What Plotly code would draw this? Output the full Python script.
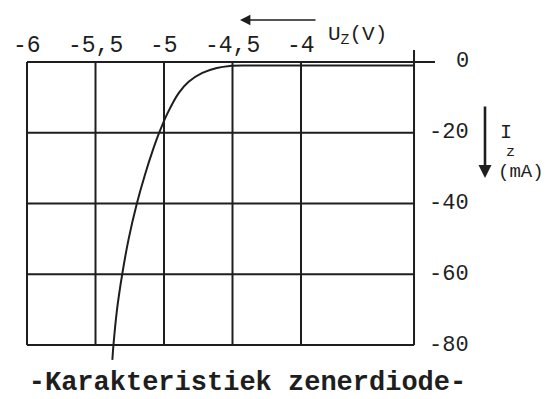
import plotly.graph_objects as go

# zener characteristic
uz = [-5.377, -5.369, -5.343, -5.305, -5.258, -5.198, -5.14, -5.082, -5.035,
      -4.973, -4.893, -4.82, -4.72, -4.615, -4.52, -4.4, -4.2, -3.9, -3.6, -3.175]
iz = [-84.2, -80, -70, -60, -50, -40, -32, -25, -20,
      -14.4, -8.8, -5.6, -3.1, -1.7, -1.1, -1.0, -1.0, -1.0, -1.0, -1.0]

x_ticks = [-6, -5.5, -5, -4.5, -4]
x_ticktext = ["-6", "-5,5", "-5", "-4,5", "-4"]
y_ticks = [0, -20, -40, -60, -80]
y_ticktext = ["0", "-20", "-40", "-60", "-80"]

x_right = -3.175   # right border of the grid
x_axis_end = -3.022  # zero line runs a bit past the border

OFF = 8  # page body margin
W, H = 557 - OFF, 399 - OFF
L, R, T, B = 20 - OFF, 117, 46 - OFF, 35
INK = "#1e1e1e"
MONO = "Liberation Mono, Courier New, monospace"


def px(x):
    return (x - OFF - L) / (W - L - R)


def py(y):
    return (H - B - (y - OFF)) / (H - T - B)


fig = go.Figure()
fig.add_trace(go.Scatter(x=uz, y=iz, mode="lines",
                         line=dict(color=INK, width=2, shape="spline", smoothing=0.7),
                         hoverinfo="skip", showlegend=False))

shapes = []
for xv in x_ticks:
    shapes.append(dict(type="line", x0=xv, x1=xv, y0=y_ticks[0], y1=y_ticks[-1],
                       line=dict(color=INK, width=2)))
shapes.append(dict(type="line", x0=x_right, x1=x_right, y0=3.4, y1=y_ticks[-1],
                   line=dict(color=INK, width=2)))
for yv in y_ticks[1:]:
    shapes.append(dict(type="line", x0=x_ticks[0], x1=x_right, y0=yv, y1=yv,
                       line=dict(color=INK, width=2)))
shapes.append(dict(type="line", x0=x_ticks[0], x1=x_axis_end, y0=0, y1=0,
                   line=dict(color=INK, width=2)))

ann = []
for xv, t in zip(x_ticks, x_ticktext):
    ann.append(dict(x=xv, y=0, xref="x", yref="y", text=t, showarrow=False,
                    yanchor="middle", yshift=16, font=dict(family=MONO, size=23, color=INK)))
for yv, t in zip(y_ticks, y_ticktext):
    ann.append(dict(x=1, y=yv, xref="paper", yref="y", text=t, showarrow=False,
                    xanchor="right", xshift=31, font=dict(family=MONO, size=22, color=INK)))

# U_Z arrow and label
ann.append(dict(x=px(240), y=py(20), xref="paper", yref="paper", text="",
                showarrow=True, ax=77, ay=0, arrowhead=2, arrowsize=1.3,
                arrowwidth=1.6, arrowcolor=INK))
ann.append(dict(x=px(326), y=py(21), xref="paper", yref="paper",
                text="U<sub>Z</sub>(V)", showarrow=False, xanchor="left",
                font=dict(family=MONO, size=21, color=INK)))
# I_z arrow and label
ann.append(dict(x=px(485), y=py(178), xref="paper", yref="paper", text="",
                showarrow=True, ax=0, ay=-73, arrowhead=2, arrowsize=1.0,
                arrowwidth=2.6, arrowcolor=INK))
ann.append(dict(x=px(498), y=py(119), xref="paper", yref="paper", text="I",
                showarrow=False, xanchor="left", font=dict(family=MONO, size=20, color=INK)))
ann.append(dict(x=px(504), y=py(142), xref="paper", yref="paper", text="z",
                showarrow=False, xanchor="left", font=dict(family=MONO, size=15, color=INK)))
ann.append(dict(x=px(496), y=py(172), xref="paper", yref="paper", text="(mA)",
                showarrow=False, xanchor="left", font=dict(family=MONO, size=19, color=INK)))

fig.update_layout(
    width=W, height=H,
    margin=dict(l=L, r=R, t=T, b=B),
    paper_bgcolor="white", plot_bgcolor="white",
    shapes=shapes, annotations=ann,
    title=dict(text="<b>-Karakteristiek zenerdiode-</b>", x=(247.5 - OFF) / W,
               y=1 - (381 - OFF) / H, xanchor="center", yanchor="middle",
               font=dict(family=MONO, size=27, color=INK)),
    xaxis=dict(range=[-6.0511, -2.9854], showgrid=False, zeroline=False,
               showticklabels=False, showline=False, fixedrange=True),
    yaxis=dict(range=[-85.37, 4.52], showgrid=False, zeroline=False,
               showticklabels=False, showline=False, fixedrange=True),
)

fig.write_html("out.html")
